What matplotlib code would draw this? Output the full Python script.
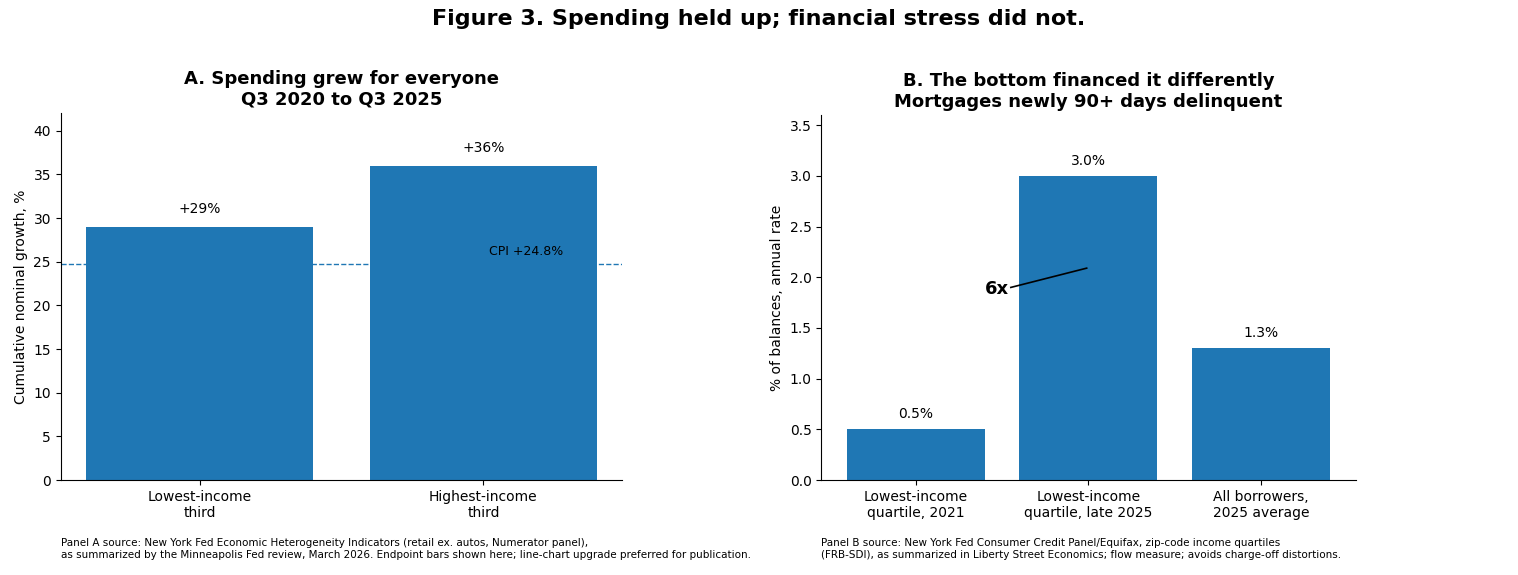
import matplotlib
matplotlib.use("Agg")
import matplotlib.pyplot as plt

a_labels = ["Lowest-income\nthird", "Highest-income\nthird"]
a_values = [29, 36]
cpi = 24.8

b_labels = ["Lowest-income\nquartile, 2021", "Lowest-income\nquartile, late 2025", "All borrowers,\n2025 average"]
b_values = [0.5, 3.0, 1.3]

blue = "#1f77b4"

fig = plt.figure(figsize=(15.18, 5.75), dpi=100)
fig.suptitle("Figure 3. Spending held up; financial stress did not.", fontsize=16, fontweight="bold", y=0.985)

ax1 = fig.add_axes([0.040, 0.165, 0.370, 0.638])
ax1.bar(range(len(a_values)), a_values, width=0.8, color=blue)
for i, v in enumerate(a_values):
    ax1.text(i, v + 1.2, f"+{v}%", ha="center", va="bottom", fontsize=10)
ax1.axhline(cpi, color=blue, linestyle="--", linewidth=1)
ax1.text(1.02, cpi + 0.6, f"CPI +{cpi}%", ha="left", va="bottom", fontsize=9)
ax1.set_xticks(range(len(a_values)))
ax1.set_xticklabels(a_labels, fontsize=10)
ax1.set_xlim(-0.49, 1.49)
ax1.set_ylim(0, 42)
ax1.set_yticks(range(0, 41, 5))
ax1.set_ylabel("Cumulative nominal growth, %", fontsize=10)
ax1.set_title("A. Spending grew for everyone\nQ3 2020 to Q3 2025", fontsize=13, fontweight="bold")
ax1.spines[["top", "right"]].set_visible(False)

ax2 = fig.add_axes([0.541, 0.165, 0.352, 0.635])
ax2.bar(range(len(b_values)), b_values, width=0.8, color=blue)
for i, v in enumerate(b_values):
    ax2.text(i, v + 0.08, f"{v:.1f}%", ha="center", va="bottom", fontsize=10)
ax2.plot([0.55, 0.99], [1.90, 2.09], color="black", linewidth=1.2)
ax2.text(0.54, 1.88, "6x", ha="right", va="center", fontsize=13, fontweight="bold")
ax2.set_xticks(range(len(b_values)))
ax2.set_xticklabels(b_labels, fontsize=10)
ax2.set_xlim(-0.55, 2.55)
ax2.set_ylim(0, 3.6)
ax2.set_yticks([0, 0.5, 1.0, 1.5, 2.0, 2.5, 3.0, 3.5])
ax2.set_ylabel("% of balances, annual rate", fontsize=10)
ax2.set_title("B. The bottom financed it differently\nMortgages newly 90+ days delinquent", fontsize=13, fontweight="bold")
ax2.spines[["top", "right"]].set_visible(False)

fig.text(0.040, 0.045,
         "Panel A source: New York Fed Economic Heterogeneity Indicators (retail ex. autos, Numerator panel),\n"
         "as summarized by the Minneapolis Fed review, March 2026. Endpoint bars shown here; line-chart upgrade preferred for publication.",
         fontsize=7.5, ha="left", va="center")
fig.text(0.541, 0.045,
         "Panel B source: New York Fed Consumer Credit Panel/Equifax, zip-code income quartiles\n"
         "(FRB-SDI), as summarized in Liberty Street Economics; flow measure; avoids charge-off distortions.",
         fontsize=7.5, ha="left", va="center")

fig.savefig("out.png", dpi=100)
